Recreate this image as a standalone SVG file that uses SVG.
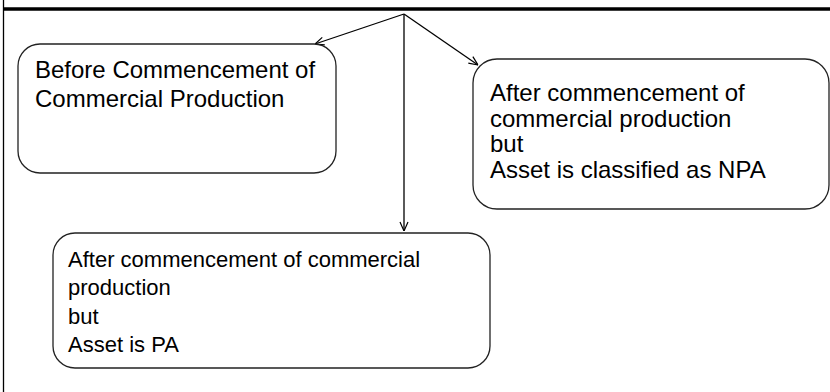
<svg xmlns="http://www.w3.org/2000/svg" width="830" height="392" viewBox="0 0 830 392">
<style>
.box{fill:#fff;stroke:#222;stroke-width:1.3}
.t{font-family:"Liberation Sans",Arial,sans-serif;fill:#000}
.l{font-size:24px}
.s{font-size:22px}
.c{stroke:#000;stroke-width:1.3;fill:none}
</style>
<defs>
<marker id="ah" viewBox="0 0 10 10" refX="10" refY="5" markerWidth="10" markerHeight="10" markerUnits="userSpaceOnUse" orient="auto">
<path d="M1,1 L10,5 L1,9" fill="none" stroke="#000" stroke-width="1.2"/>
</marker>
</defs>
<rect width="830" height="392" fill="#fff"/>
<line x1="3.5" y1="0" x2="3.5" y2="392" stroke="#000" stroke-width="1.3"/>
<line x1="3" y1="9" x2="830" y2="9" stroke="#000" stroke-width="3.5"/>
<g id="connectors">
<line class="c" x1="404" y1="14" x2="315" y2="44" marker-end="url(#ah)"/>
<line class="c" x1="404" y1="14" x2="478" y2="65" marker-end="url(#ah)"/>
<line class="c" x1="404" y1="14" x2="404" y2="231" marker-end="url(#ah)"/>
</g>
<g id="node-before">
<rect class="box" x="18" y="44" width="318" height="129" rx="22" ry="22"/>
<text class="t l" x="35" y="78">Before Commencement of</text>
<text class="t l" x="35" y="106.5">Commercial Production</text>
</g>
<g id="node-npa">
<rect class="box" x="473" y="59" width="356" height="150" rx="24" ry="24"/>
<text class="t l" x="490" y="101">After commencement of</text>
<text class="t l" x="490" y="126.5">commercial production</text>
<text class="t l" x="490" y="152">but</text>
<text class="t l" x="490" y="177.5">Asset is classified as NPA</text>
</g>
<g id="node-pa">
<rect class="box" x="53" y="233" width="437" height="135" rx="22" ry="22"/>
<text class="t s" x="68" y="266.5">After commencement of commercial</text>
<text class="t s" x="68" y="295">production</text>
<text class="t s" x="68" y="323.5">but</text>
<text class="t s" x="68" y="352">Asset is PA</text>
</g>
</svg>
